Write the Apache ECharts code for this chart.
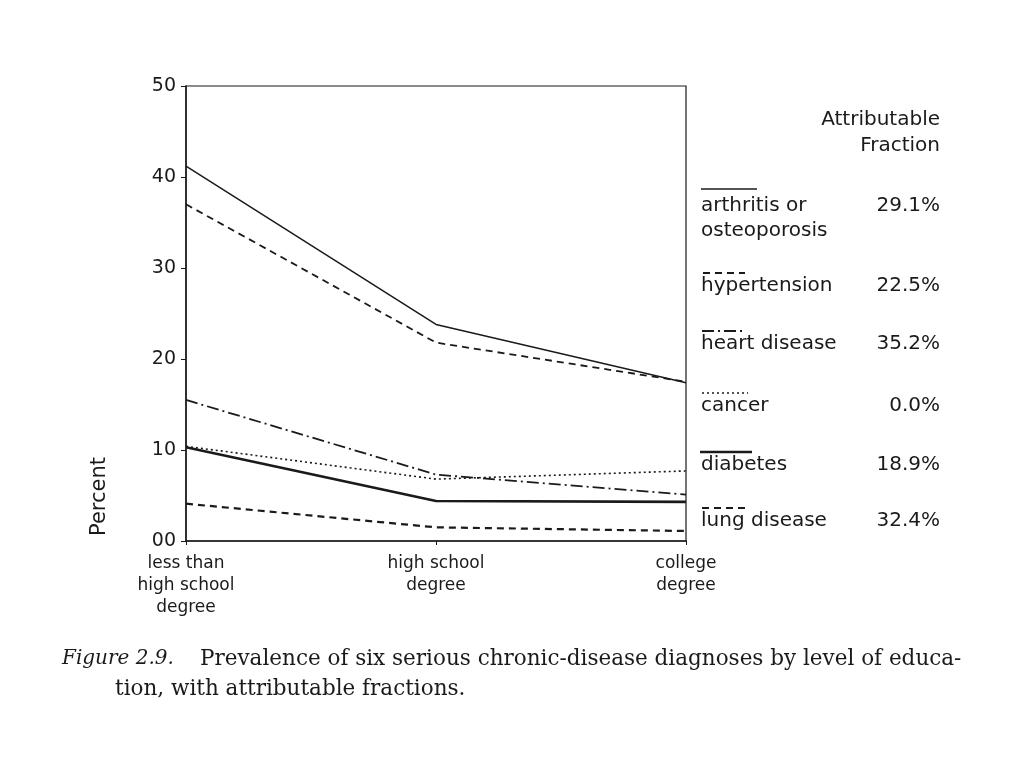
<!DOCTYPE html>
<html><head><meta charset="utf-8">
<script src="https://cdn.jsdelivr.net/npm/echarts@6/dist/echarts.min.js"></script>
<style>html,body{margin:0;padding:0;background:#fff}#c{width:1024px;height:768px}</style>
</head><body><div id="c"></div>
<script>
const categories = ['less than\nhigh school\ndegree', 'high school\ndegree', 'college\ndegree'];
const yTicks = [0, 10, 20, 30, 40, 50];
const seriesNames = ['arthritis or\nosteoporosis', 'hypertension', 'heart disease', 'cancer', 'diabetes', 'lung disease'];
const fractions = ['29.1%', '22.5%', '35.2%', '0.0%', '18.9%', '32.4%'];
const arthritis = [41.2, 23.8, 17.4];
const hypertension = [37.0, 21.8, 17.5];
const heartDisease = [15.5, 7.3, 5.1];
const cancer = [10.4, 6.8, 7.7];
const diabetes = [10.3, 4.4, 4.3];
const lungDisease = [4.1, 1.5, 1.1];

const values = [arthritis, hypertension, heartDisease, cancer, diabetes, lungDisease];
const styles = [
  {type:'solid', width:1.5},
  {type:[7,5], width:1.8},
  {type:[12,4,2,4], width:1.8},
  {type:[2,3], width:1.6},
  {type:'solid', width:2.6},
  {type:[7,5], width:2.2}
];
const lineY = [189, 273, 331, 393, 452, 508];
const lineX = [[701,757],[703,745],[702,745],[702,748],[700,752],[702,745]];
const textY = [206, 286, 344, 406, 465, 521];
const col = '#1a1a1a';
const sans = '"DejaVu Sans", "Liberation Sans", Arial, sans-serif';
const serif = '"DejaVu Serif", "Liberation Serif", serif';

const graphic = [];
graphic.push({type:'text', x:940, y:107, style:{text:'Attributable\nFraction', align:'right', verticalAlign:'top', font:'20px ' + sans, lineHeight:26, fill:col}});
seriesNames.forEach((n, i) => {
  const st = styles[i];
  graphic.push({type:'line', shape:{x1:lineX[i][0], y1:lineY[i], x2:lineX[i][1], y2:lineY[i]}, style:{stroke:col, lineWidth:st.width, lineDash: st.type==='solid'?null:st.type}});
  graphic.push({type:'text', x:701, y:textY[i]-12.5, style:{text:n, align:'left', verticalAlign:'top', font:'20px ' + sans, lineHeight:25, fill:col}});
  graphic.push({type:'text', x:940, y:textY[i]-12.5, style:{text:fractions[i], align:'right', verticalAlign:'top', font:'20px ' + sans, lineHeight:25, fill:col}});
});
graphic.push({type:'text', x:100, y:536, rotation:Math.PI/2, style:{text:'Percent', align:'left', verticalAlign:'middle', font:'21px ' + sans, fill:col}});
graphic.push({type:'text', x:62, y:659, style:{verticalAlign:'middle', text:'Figure 2.9.', font:'italic 20px ' + serif, fill:col}});
graphic.push({type:'text', x:200, y:659, style:{verticalAlign:'middle', text:'Prevalence of six serious chronic-disease diagnoses by level of educa-', font:'21.5px ' + serif, fill:col}});
graphic.push({type:'text', x:115, y:689, style:{verticalAlign:'middle', text:'tion, with attributable fractions.', font:'21.5px ' + serif, fill:col}});

const chart = echarts.init(document.getElementById('c'), null, {renderer:'canvas'});
chart.setOption({
  animation:false,
  backgroundColor:'#fff',
  grid:{left:186, right:338, top:86, bottom:227, show:true, borderColor:col, borderWidth:1.2, backgroundColor:'transparent'},
  xAxis:{type:'category', data:categories, boundaryGap:false,
    axisLine:{lineStyle:{color:col, width:1.5}},
    axisTick:{show:true, length:4, lineStyle:{color:col}},
    axisLabel:{color:col, fontSize:17, lineHeight:22, fontFamily:sans, margin:12, interval:0}},
  yAxis:{type:'value', min:0, max:50, interval:10,
    axisLine:{show:true, lineStyle:{color:col, width:1.5}},
    axisTick:{show:true, length:5, lineStyle:{color:col}},
    splitLine:{show:false},
    axisLabel:{color:col, fontSize:19, fontFamily:sans, margin:10,
      formatter: v => yTicks.includes(v) ? (v === 0 ? '00' : String(v)) : ''}},
  series: values.map((d, i) => ({type:'line', name:seriesNames[i], data:d, symbol:'none', silent:true,
    lineStyle:{color:col, width:styles[i].width, type:styles[i].type}})),
  graphic: graphic
});
</script></body></html>
